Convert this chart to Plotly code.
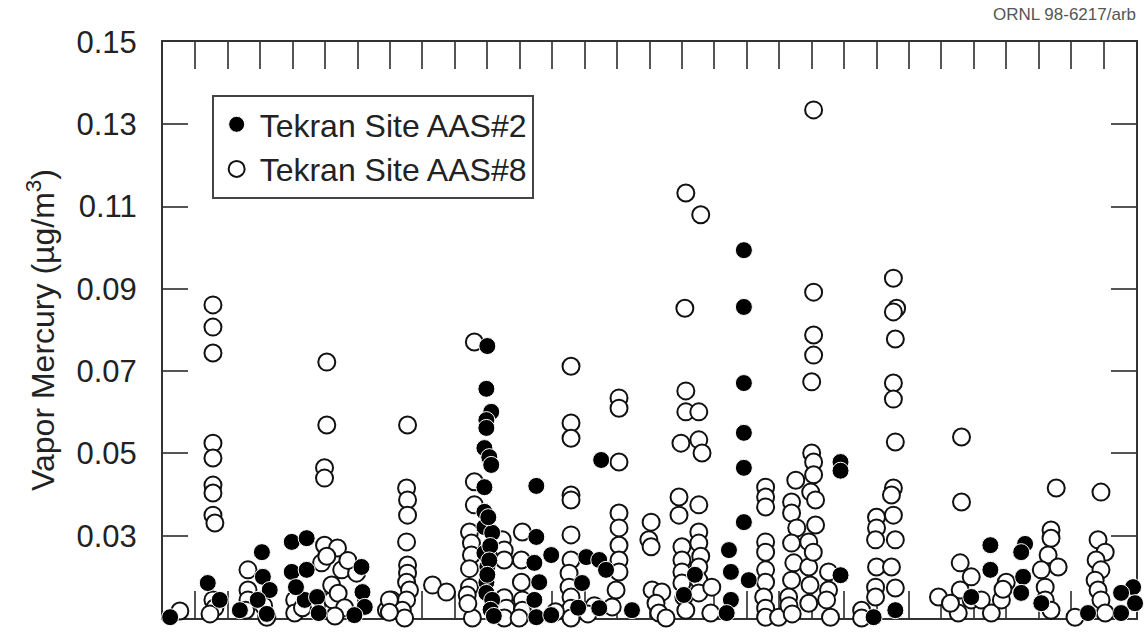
import plotly.graph_objects as go

# ---- data (x = day position along the 30-division axis, y = vapor mercury, ug/m3) ----
aas2_day = [
    0.22, 1.38, 1.75, 2.37,
    3.05, 3.08, 3.29, 2.92, 3.20,
    3.97, 4.43, 3.97, 4.43, 4.37, 4.10, 4.75, 4.80,
    6.12, 6.15, 6.22, 5.90,
    10.00, 9.97, 10.12, 9.97, 9.97, 9.91, 10.06, 10.12, 9.91, 9.91, 9.91, 10.15,
    9.91, 10.00, 9.97, 9.97, 10.15, 10.03, 10.09, 10.06, 10.00, 10.10, 10.20,
    11.51, 11.51, 11.45, 11.60, 11.45, 11.51, 11.97, 11.97,
    13.51, 13.05, 12.92, 13.45, 13.66, 13.45, 12.80,
    14.46,
    16.06, 16.40,
    17.45, 17.51, 17.51, 17.38, 18.06,
    17.91, 17.91, 17.91, 17.91, 17.91, 17.91,
    20.89, 20.89, 20.89,
    22.58, 21.91,
    25.51, 25.51, 24.92,
    26.58, 26.46, 26.52, 26.46, 27.08,
    29.91, 29.54, 29.97, 29.54, 28.52,
]
aas2_hg = [
    0.0102, 0.0185, 0.0144, 0.0119,
    0.0260, 0.0200, 0.0168, 0.0144, 0.0110,
    0.0285, 0.0294, 0.0212, 0.0217, 0.0144, 0.0175, 0.0151, 0.0112,
    0.0224, 0.0163, 0.0127, 0.0107,
    0.0761, 0.0657, 0.0601, 0.0581, 0.0562, 0.0513, 0.0491, 0.0472, 0.0418, 0.0358, 0.0321, 0.0307,
    0.0258, 0.0224, 0.0187, 0.0161, 0.0144, 0.0345, 0.0275, 0.0240, 0.0205, 0.0120, 0.0105,
    0.0421, 0.0297, 0.0234, 0.0187, 0.0144, 0.0102, 0.0253, 0.0107,
    0.0484, 0.0248, 0.0185, 0.0241, 0.0217, 0.0124, 0.0125,
    0.0119,
    0.0156, 0.0205,
    0.0265, 0.0212, 0.0144, 0.0112, 0.0192,
    0.0994, 0.0856, 0.0671, 0.0550, 0.0465, 0.0333,
    0.0479, 0.0458, 0.0204,
    0.0119, 0.0102,
    0.0277, 0.0217, 0.0151,
    0.0280, 0.0260, 0.0200, 0.0161, 0.0136,
    0.0175, 0.0161, 0.0136, 0.0112, 0.0112,
]

aas8_day = [
    0.52,
    1.54, 1.54, 1.54, 1.54, 1.54, 1.54, 1.54, 1.54, 1.60, 1.54, 1.60, 1.45,
    2.62, 2.62, 2.62, 2.55,
    3.20, 3.10,
    4.06, 4.06, 4.30,
    5.05, 5.05, 4.98, 4.98, 4.98, 5.38, 4.89, 5.51, 5.97, 5.23, 5.20, 5.40, 5.60, 5.30, 5.05, 5.70,
    7.05, 6.89, 7.54, 7.51, 7.54, 7.54, 7.51, 7.54, 7.54, 7.51, 7.60, 7.51, 7.38, 7.45, 6.98, 6.98,
    8.31, 8.74,
    9.60, 9.60, 9.60, 9.45, 9.51, 9.51, 9.45, 9.38, 9.54, 9.45, 9.40,
    10.46, 10.52, 10.52, 10.52, 10.58, 10.52,
    11.08, 11.05, 11.05, 11.08, 11.08, 10.98,
    12.58, 12.58, 12.58, 12.58, 12.58, 12.58, 12.58, 12.52, 12.52, 12.58, 12.58, 12.58, 12.10,
    13.30, 13.10,
    14.06, 14.06, 14.06, 14.06, 14.06, 14.06, 14.06, 14.06, 13.97, 13.85,
    15.05, 14.98, 15.05, 15.08, 15.38, 15.20, 15.29, 15.51,
    16.12, 16.58, 16.09, 16.12, 16.12, 16.52, 15.97, 16.52, 16.62, 15.91, 15.91, 16.52, 16.52,
    16.52, 16.58, 16.00, 16.00, 16.00, 16.00, 16.06, 16.12, 16.52, 16.52, 16.52, 16.89, 16.92,
    18.58, 18.58, 18.58, 18.58, 18.58, 18.58, 18.58, 18.52, 18.58, 18.58, 18.98,
    19.51, 19.38, 19.38, 19.54, 19.38, 19.45, 19.38, 19.29, 19.30, 19.40,
    20.06, 20.06, 20.06, 20.06, 20.00, 20.00, 20.06, 20.06, 19.97, 20.12, 20.12, 19.91, 19.91,
    19.91, 19.95, 20.05,
    20.52, 20.52, 20.46, 20.58,
    21.54, 21.54,
    22.00, 22.00, 21.97, 22.00, 22.46, 21.97, 21.97,
    22.52, 22.62, 22.52, 22.58, 22.52, 22.52, 22.58, 22.52, 22.46, 22.52, 22.58, 22.58,
    23.91, 24.62, 24.62, 24.58, 24.92, 24.58, 24.92, 24.52, 24.28,
    25.23, 25.54, 25.85, 26.00, 25.90,
    27.38, 27.38, 27.29, 27.60, 27.08, 27.20, 27.20, 27.38, 28.12, 27.54,
    28.92, 28.83, 29.05, 28.77, 28.92, 28.74, 28.83, 28.92, 29.05,
]
aas8_hg = [
    0.0117,
    0.0861, 0.0807, 0.0744, 0.0525, 0.0489, 0.0423, 0.0404, 0.0350, 0.0331, 0.0144, 0.0125, 0.0110,
    0.0217, 0.0168, 0.0144, 0.0119,
    0.0102, 0.0130,
    0.0144, 0.0112, 0.0125,
    0.0722, 0.0569, 0.0465, 0.0440, 0.0277, 0.0270, 0.0234, 0.0217, 0.0209, 0.0144, 0.0180, 0.0160, 0.0125, 0.0105, 0.0250, 0.0240,
    0.0144, 0.0119, 0.0569, 0.0416, 0.0387, 0.0350, 0.0285, 0.0229, 0.0209, 0.0187, 0.0168, 0.0144, 0.0119, 0.0100, 0.0144, 0.0114,
    0.0180, 0.0163,
    0.0771, 0.0431, 0.0375, 0.0309, 0.0282, 0.0253, 0.0175, 0.0156, 0.0100, 0.0220, 0.0135,
    0.0290, 0.0265, 0.0241, 0.0149, 0.0124, 0.0100,
    0.0309, 0.0241, 0.0187, 0.0144, 0.0119, 0.0100,
    0.0712, 0.0574, 0.0537, 0.0399, 0.0387, 0.0302, 0.0241, 0.0209, 0.0175, 0.0151, 0.0124, 0.0100, 0.0115,
    0.0130, 0.0110,
    0.0635, 0.0610, 0.0479, 0.0355, 0.0319, 0.0277, 0.0241, 0.0212, 0.0168, 0.0127,
    0.0333, 0.0290, 0.0273, 0.0168, 0.0163, 0.0136, 0.0112, 0.0100,
    0.1133, 0.1080, 0.0853, 0.0652, 0.0601, 0.0601, 0.0525, 0.0533, 0.0501, 0.0394, 0.0350, 0.0375, 0.0309,
    0.0282, 0.0250, 0.0273, 0.0241, 0.0212, 0.0185, 0.0151, 0.0119, 0.0224, 0.0192, 0.0161, 0.0112, 0.0175,
    0.0418, 0.0394, 0.0370, 0.0285, 0.0260, 0.0217, 0.0187, 0.0151, 0.0124, 0.0102, 0.0102,
    0.0435, 0.0382, 0.0355, 0.0319, 0.0282, 0.0234, 0.0192, 0.0151, 0.0130, 0.0110,
    0.1335, 0.0892, 0.0788, 0.0739, 0.0674, 0.0501, 0.0479, 0.0448, 0.0406, 0.0387, 0.0326, 0.0285, 0.0224,
    0.0136, 0.0180, 0.0260,
    0.0212, 0.0168, 0.0144, 0.0102,
    0.0119, 0.0100,
    0.0345, 0.0319, 0.0290, 0.0224, 0.0224, 0.0175, 0.0151,
    0.0926, 0.0853, 0.0844, 0.0778, 0.0671, 0.0632, 0.0528, 0.0416, 0.0399, 0.0350, 0.0290, 0.0173,
    0.0151, 0.0540, 0.0382, 0.0234, 0.0200, 0.0168, 0.0144, 0.0112, 0.0136,
    0.0144, 0.0112, 0.0144, 0.0187, 0.0170,
    0.0314, 0.0294, 0.0253, 0.0224, 0.0217, 0.0175, 0.0144, 0.0119, 0.0102, 0.0416,
    0.0406, 0.0290, 0.0260, 0.0241, 0.0217, 0.0192, 0.0168, 0.0144, 0.0112,
]

series_names = ["Tekran Site AAS#2", "Tekran Site AAS#8"]
y_ticks = [0.01, 0.03, 0.05, 0.07, 0.09, 0.11, 0.13, 0.15]
y_title = "Vapor Mercury (µg/m<sup>3</sup>)"
doc_id = "ORNL 98-6217/arb"

FONT = "Liberation Sans, Arial, Helvetica, sans-serif"

fig = go.Figure()
fig.add_trace(go.Scatter(
    x=aas8_day, y=aas8_hg, mode="markers", name=series_names[1], legendrank=2,
    cliponaxis=False,
    marker=dict(symbol="circle", size=17, color="white", line=dict(color="#111", width=2)),
))
fig.add_trace(go.Scatter(
    x=aas2_day, y=aas2_hg, mode="markers", name=series_names[0], legendrank=1,
    cliponaxis=False,
    marker=dict(symbol="circle", size=17, color="#000", line=dict(color="white", width=1)),
))

axis_common = dict(
    showline=True, linewidth=2, linecolor="#333", mirror="allticks",
    ticks="inside", tickwidth=2, tickcolor="#555",
    showgrid=False, zeroline=False, layer="below traces",
)
fig.update_xaxes(range=[0, 30], tickmode="linear", tick0=0, dtick=1, ticklen=27,
                 showticklabels=False, **axis_common)
fig.update_yaxes(range=[0.01, 0.15], tickmode="array", tickvals=y_ticks,
                 ticktext=[f"{v:.2f}" for v in y_ticks], ticklen=25,
                 ticklabelstandoff=18,
                 tickfont=dict(family=FONT, size=31, color="#222"),
                 title=dict(text=y_title, font=dict(family=FONT, size=32, color="#222"), standoff=12),
                 **axis_common)

fig.update_layout(
    width=1144, height=635,
    margin=dict(l=163, r=6, t=42, b=17),
    paper_bgcolor="white", plot_bgcolor="white",
    font=dict(family=FONT, color="#222"),
    showlegend=True,
    legend=dict(x=0.05, y=0.908, xanchor="left", yanchor="top",
                bgcolor="white", bordercolor="#444", borderwidth=2,
                itemwidth=36, entrywidth=337,
                font=dict(family=FONT, size=32, color="#222")),
    annotations=[dict(text=doc_id, xref="paper", yref="paper", x=1.002, y=1.047,
                      xanchor="right", yanchor="middle", showarrow=False,
                      font=dict(family=FONT, size=17, color="#555"))],
)

# remove the default page margin so the figure fills the window exactly
fig.write_html("out.html",
               config={"displayModeBar": False},
               post_script="document.body.style.margin='0';document.body.style.overflow='hidden';")
